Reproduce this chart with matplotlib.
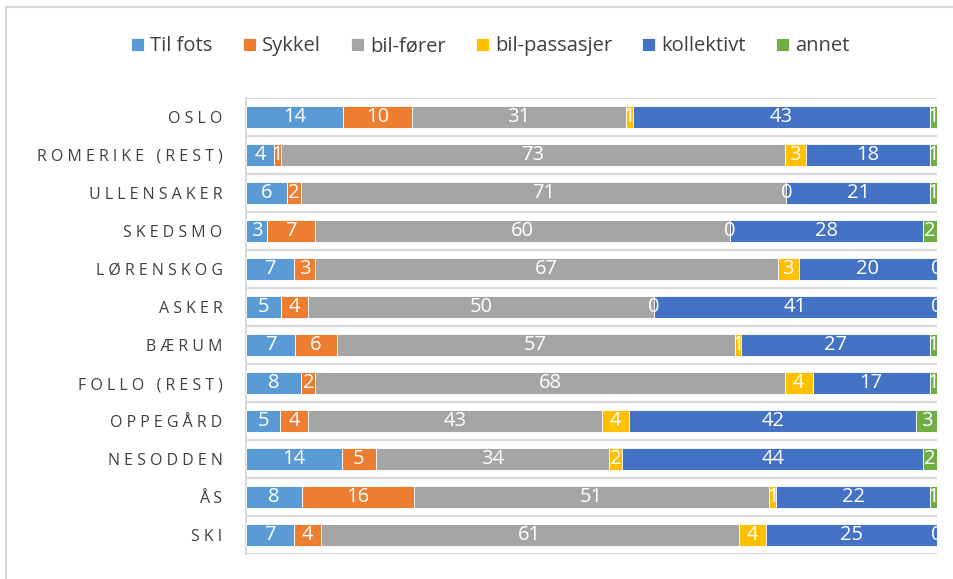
import matplotlib
matplotlib.use("Agg")
import matplotlib.pyplot as plt
from matplotlib.lines import Line2D
import numpy as np

categories = ["OSLO", "ROMERIKE (REST)", "ULLENSAKER", "SKEDSMO", "LØRENSKOG", "ASKER",
              "BÆRUM", "FOLLO (REST)", "OPPEGÅRD", "NESODDEN", "ÅS", "SKI"]
series_names = ["Til fots", "Sykkel", "bil-fører", "bil-passasjer", "kollektivt", "annet"]
til_fots = [14, 4, 6, 3, 7, 5, 7, 8, 5, 14, 8, 7]
sykkel = [10, 1, 2, 7, 3, 4, 6, 2, 4, 5, 16, 4]
bil_forer = [31, 73, 71, 60, 67, 50, 57, 68, 43, 34, 51, 61]
bil_passasjer = [1, 3, 0, 0, 3, 0, 1, 4, 4, 2, 1, 4]
kollektivt = [43, 18, 21, 28, 20, 41, 27, 17, 42, 44, 22, 25]
annet = [1, 1, 1, 2, 0, 0, 1, 1, 3, 2, 1, 0]
colors = ["#5B9BD5", "#ED7D31", "#A5A5A5", "#FFC000", "#4472C4", "#70AD47"]

data = np.array([til_fots, sykkel, bil_forer, bil_passasjer, kollektivt, annet], dtype=float)
totals = data.sum(axis=0)
pct = data / totals * 100

fig = plt.figure(figsize=(9.54, 5.79), dpi=100)
ax = fig.add_axes([0.258, 0.043, 0.724, 0.788])

n = len(categories)
y = np.arange(n)[::-1]
left = np.zeros(n)
for i, name in enumerate(series_names):
    ax.barh(y, pct[i], left=left, height=0.58, color=colors[i], label=name,
            edgecolor="white", linewidth=0.6, zorder=3)
    for j in range(n):
        ax.text(left[j] + pct[i][j] / 2, y[j], f"{int(data[i][j])}", ha="center", va="center",
                color="white", fontsize=14.5, family=["Open Sans", "DejaVu Sans"], zorder=4)
    left += pct[i]

ax.set_xlim(0, 100)
ax.set_ylim(-0.5, n - 0.5)
for b in np.arange(-0.5, n, 1.0):
    ax.axhline(b, color="#D9D9D9", linewidth=1.5, zorder=1)
ax.set_xticks([])
ax.set_yticks(y)
spaced = [" ".join(list(c)) for c in categories]
ax.set_yticklabels(spaced, fontsize=11.5, color="#404040", family=["Open Sans", "DejaVu Sans"])
ax.tick_params(axis="y", length=0, pad=17)
for s in ["top", "right", "bottom"]:
    ax.spines[s].set_visible(False)
ax.spines["left"].set_color("#D9D9D9")
ax.spines["left"].set_linewidth(1.5)

leg = fig.legend(loc="center", bbox_to_anchor=(0.514, 0.920), ncol=6, frameon=False,
                 prop={"family": ["Open Sans", "DejaVu Sans"], "size": 14.5},
                 handlelength=0.65, handleheight=0.65, handletextpad=0.3, columnspacing=1.5)
for t in leg.get_texts():
    t.set_color("#404040")

fig.add_artist(Line2D([0.0063, 0.0063], [0, 0.988], transform=fig.transFigure, color="#D9D9D9", linewidth=1.5))
fig.add_artist(Line2D([0.0063, 1.0], [0.988, 0.988], transform=fig.transFigure, color="#D9D9D9", linewidth=1.5))

fig.savefig("out.png", dpi=100)
